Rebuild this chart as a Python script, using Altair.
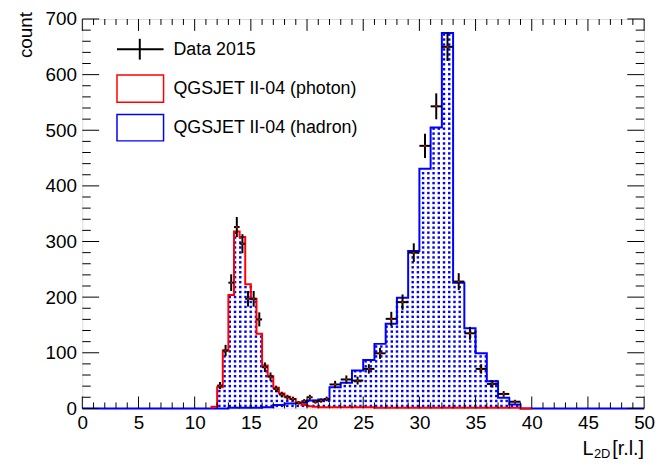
import altair as alt
import pandas as pd
import numpy as np

# ---------------- data ----------------
# bin edges (0.5 wide up to 22, then 1 wide)
EDGES = [11.5, 12.0, 12.5, 13.0, 13.5, 14.0, 14.5, 15.0, 15.5, 16.0, 16.5,
         17.0, 17.5, 18.0, 18.5, 19.0, 19.5, 20.0, 20.5, 21.0, 21.5, 22.0,
         23, 24, 25, 26, 27, 28, 29, 30, 31, 32, 33, 34, 35, 36, 37, 38, 39, 40]

PHOTON = [3, 38, 104, 204, 318, 308, 223, 197, 134, 77, 58, 37, 27, 21, 17,
          10, 6, 4, 3, 2, 2,
          2, 2, 2, 2, 1, 1, 1, 1, 1, 1, 1, 1, 1, 1, 1, 1, 1, 0]

HADRON = [0, 0, 0, 1, 1, 1, 1, 1, 1, 2, 2, 6, 6, 9, 9, 10, 10, 14, 14, 16, 16,
          38, 46, 68, 87, 116, 152, 199, 283, 431, 505, 675, 226, 144, 99, 49,
          19, 7, 0]

DATA = [0, 41, 104, 226, 326, 296, 197, 197, 160, 74, 57, 35, 25, 20, 17,
        10, 13, 20, 12, 14, 17,
        43, 52, 50, 71, 99, 161, 191, 280, 472, 543, 650, 228, 135, 71, 44,
        26, 12, 0]

X_MAJOR = [0, 5, 10, 15, 20, 25, 30, 35, 40, 45, 50]
X_MINOR = [v for v in range(0, 51) if v % 5 != 0]
Y_MAJOR = [0, 100, 200, 300, 400, 500, 600, 700]
Y_MINOR = [v for v in range(0, 701, 20) if v % 100 != 0]

LEGEND = ["Data 2015", "QGSJET II-04 (photon)", "QGSJET II-04 (hadron)"]

# ---------------- style ----------------
PAD_L, PAD_T, PAD_R, PAD_B = 75, 9, 12, 52
W, H = 567, 393
FONT = "Liberation Sans"
RED = "#ff0000"
BLUE = "#0000ff"
DOT_DX, DOT_DY = 0.465, 8.9   # fill pattern spacing (data units)

XS = alt.Scale(domain=[0, 50], nice=False, zero=False)
YS = alt.Scale(domain=[0, 700], nice=False)

lo = EDGES[:-1]
hi = EDGES[1:]


def step_frame(vals, start, end):
    rows = [(start, 0.0)]
    rows.append((lo[0], 0.0))
    for a, v in zip(lo, vals):
        rows.append((a, v))
    rows.append((hi[-1], 0.0))
    rows.append((end, 0.0))
    df = pd.DataFrame(rows, columns=["x", "y"])
    df["o"] = range(len(df))
    return df


had_df = step_frame(HADRON, 0, 50)
pho_df = step_frame(PHOTON, lo[0], hi[-1])

# dotted fill pattern under the histograms
env_hi, env_v = np.array(hi), np.maximum(PHOTON, HADRON)
gx = np.arange(lo[0] + DOT_DX / 2, hi[-1], DOT_DX)
gy = np.arange(DOT_DY / 2, 700, DOT_DY)
pts = []
for xv in gx:
    idx = np.searchsorted(env_hi, xv, side="right")
    if idx >= len(env_v):
        continue
    top = env_v[idx]
    for yv in gy:
        if yv < top:
            pts.append((xv, yv))
dots_df = pd.DataFrame(pts, columns=["x", "y"])

d = pd.DataFrame({"lo": lo, "hi": hi, "n": DATA})
d = d[d["n"] > 0].copy()
d["c"] = (d["lo"] + d["hi"]) / 2
d["e1"] = d["n"] - np.sqrt(d["n"])
d["e2"] = d["n"] + np.sqrt(d["n"])

# ---------------- layers ----------------
dots = alt.Chart(dots_df).mark_square(size=6, color=BLUE, opacity=1).encode(
    x=alt.X("x:Q", scale=XS, axis=alt.Axis(values=X_MAJOR, title=None, grid=False, domain=False,
                                              ticks=False, labelFontSize=19, labelFont=FONT,
                                              labelPadding=5, labelColor="black", labelFlush=False)),
    y=alt.Y("y:Q", scale=YS, axis=alt.Axis(values=Y_MAJOR, title=None, grid=False, domain=False,
                                              ticks=False, labelFontSize=19, labelFont=FONT,
                                              labelPadding=6, labelColor="black", labelFlush=False)),
)

had_line = alt.Chart(had_df).mark_line(interpolate="step-after", color=BLUE, strokeWidth=2).encode(
    x=alt.X("x:Q", scale=XS), y=alt.Y("y:Q", scale=YS), order="o:Q")
pho_line = alt.Chart(pho_df).mark_line(interpolate="step-after", color=RED, strokeWidth=2).encode(
    x=alt.X("x:Q", scale=XS), y=alt.Y("y:Q", scale=YS), order="o:Q")

ex = alt.Chart(d).mark_rule(color="black", strokeWidth=2).encode(
    x=alt.X("lo:Q", scale=XS), x2="hi:Q", y=alt.Y("n:Q", scale=YS))
ey = alt.Chart(d).mark_rule(color="black", strokeWidth=2).encode(
    x=alt.X("c:Q", scale=XS), y=alt.Y("e1:Q", scale=YS), y2="e2:Q")
ec = alt.Chart(d).mark_square(color=RED, size=3, opacity=1).encode(
    x=alt.X("c:Q", scale=XS), y=alt.Y("n:Q", scale=YS))

# ticks (inward, on all four sides)
xmaj = pd.DataFrame({"t": X_MAJOR})
xmin = pd.DataFrame({"t": X_MINOR})
ymaj = pd.DataFrame({"t": Y_MAJOR})
ymin = pd.DataFrame({"t": Y_MINOR})


def xt(df, y0, y1):
    return alt.Chart(df).mark_rule(color="black", strokeWidth=1).encode(
        x=alt.X("t:Q", scale=XS), y=alt.value(y0), y2=alt.value(y1))


def yt(df, x0, x1):
    return alt.Chart(df).mark_rule(color="black", strokeWidth=1).encode(
        y=alt.Y("t:Q", scale=YS), x=alt.value(x0), x2=alt.value(x1))


ticks = [xt(xmaj, H, H - 12), xt(xmin, H, H - 6), xt(xmaj, 0, 12), xt(xmin, 0, 6),
         yt(ymaj, 0, 17), yt(ymin, 0, 8.5), yt(ymaj, W, W - 17), yt(ymin, W, W - 8.5)]


# legend
def txt(s, x, y, size=18, align="left", angle=0, baseline="middle"):
    return alt.Chart(pd.DataFrame({"a": [0]})).mark_text(
        text=s, font=FONT, fontSize=size, align=align, baseline=baseline, angle=angle,
        color="black").encode(x=alt.value(x), y=alt.value(y))


def rect(x0, x1, y0, y1, col):
    return alt.Chart(pd.DataFrame({"a": [0]})).mark_rect(
        fillOpacity=0, stroke=col, strokeWidth=1.5).encode(
        x=alt.value(x0), x2=alt.value(x1), y=alt.value(y0), y2=alt.value(y1))


def seg(x0, x1, y0, y1, col, w=2):
    return alt.Chart(pd.DataFrame({"a": [0]})).mark_rule(color=col, strokeWidth=w).encode(
        x=alt.value(x0), x2=alt.value(x1), y=alt.value(y0), y2=alt.value(y1))


legend = [
    seg(35, 82, 30.5, 30.5, "black"),
    seg(58, 58, 20, 41, "black"),
    rect(35, 82, 56.5, 84, RED),
    rect(35, 82, 96.5, 123, BLUE),
    txt(LEGEND[0], 92, 31),
    txt(LEGEND[1], 92, 70.5),
    txt(LEGEND[2], 92, 110.5),
]

titles = [
    txt("count", -57, -7, size=19, align="right", angle=270),
    txt("[r.l.]", W, H + 47, size=20, align="right", baseline="alphabetic"),
    txt("2D", W - 34, H + 50, size=13, align="right", baseline="alphabetic"),
    txt("L", W - 51, H + 47, size=20, align="right", baseline="alphabetic"),
]

chart = alt.layer(dots, had_line, pho_line, ex, ey, ec, *ticks, *legend, *titles).properties(
    width=W, height=H,
    autosize="none",
    padding={"left": PAD_L, "top": PAD_T, "right": PAD_R, "bottom": PAD_B},
).configure_view(stroke="black", strokeWidth=1).configure(background="white")

chart.save("out.html", embed_options={"renderer": "svg", "actions": False})
